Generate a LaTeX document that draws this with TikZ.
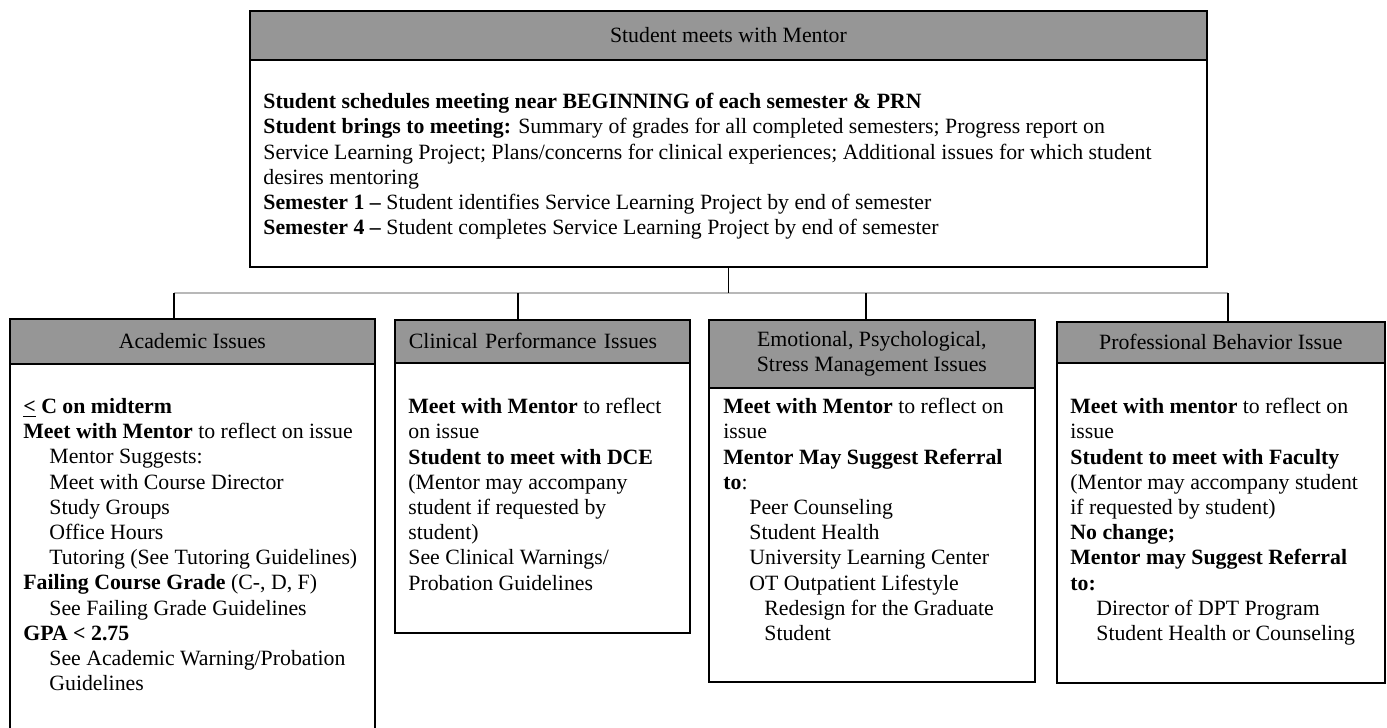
\documentclass[tikz,border=0pt]{standalone}
\usepackage{fontspec}
\setmainfont{Liberation Serif}
\usetikzlibrary{positioning}
\definecolor{headgray}{gray}{0.59}
\definecolor{busgray}{gray}{0.72}
\tikzset{
  box/.style={draw, line width=0.9pt, fill=white, anchor=north west, inner sep=0pt},
  head/.style={box, fill=headgray, align=center},
  txt/.style={anchor=north west, align=left, inner sep=0pt},
  link/.style={line width=0.8pt},
}
\newcommand{\ind}{\hspace*{13pt}}

\begin{document}
\begin{tikzpicture}[x=0.5pt, y=-0.5pt, font=\fontsize{10.9}{12.6}\selectfont]
    \clip (0,0) rectangle (1387,728);
    % Top box
    \node[box, minimum width=478.5pt, minimum height=128pt] (top) at (249,10) {};
    \node[head, minimum width=478.5pt, minimum height=24.5pt] (toph) at (249,10) {Student meets with Mentor};
    \node[txt] (toptxt) at (263,93) {%
        \textbf{Student schedules meeting near BEGINNING of each semester \& PRN}\\
        \textbf{Student brings to meeting:} Summary of grades for all completed semesters; Progress report on\\
        Service Learning Project; Plans/concerns for clinical experiences; Additional issues for which student\\
        desires mentoring\\
        \textbf{Semester 1 –} Student identifies Service Learning Project by end of semester\\
        \textbf{Semester 4 –} Student completes Service Learning Project by end of semester};
    % Issue boxes
    \node[box, minimum width=182.5pt, minimum height=211pt] (acad) at (9,318) {};
    \node[head, minimum width=182.5pt, minimum height=22.5pt] (acadh) at (9,318) {Academic Issues};
    \node[box, minimum width=147.5pt, minimum height=156.5pt] (clin) at (394,319) {};
    \node[head, minimum width=147.5pt, minimum height=21.5pt, text width=133.5pt, inner xsep=7pt, align=left] (clinh) at (394,319) {Clinical Performance Issues};
    \node[box, minimum width=163pt, minimum height=181pt] (emo) at (708,319) {};
    \node[head, minimum width=163pt, minimum height=34pt] (emoh) at (708,319) {Emotional, Psychological,\\Stress Management Issues};
    \node[box, minimum width=164pt, minimum height=180.5pt] (prof) at (1056,321) {};
    \node[head, minimum width=164pt, minimum height=20.5pt] (profh) at (1056,321) {Professional Behavior Issue};
    % Box texts
    \node[txt] (acadtxt) at (23,398) {%
        \textbf{\underline{<} C on midterm}\\
        \textbf{Meet with Mentor} to reflect on issue\\
        \ind Mentor Suggests:\\
        \ind Meet with Course Director\\
        \ind Study Groups\\
        \ind Office Hours\\
        \ind Tutoring (See Tutoring Guidelines)\\
        \textbf{Failing Course Grade} (C-, D, F)\\
        \ind See Failing Grade Guidelines\\
        \textbf{GPA < 2.75}\\
        \ind See Academic Warning/Probation\\
        \ind Guidelines};
    \node[txt] (clintxt) at (408,398) {%
        \textbf{Meet with Mentor} to reflect\\
        on issue\\
        \textbf{Student to meet with DCE}\\
        (Mentor may accompany\\
        student if requested by\\
        student)\\
        See Clinical Warnings/\\
        Probation Guidelines};
    \node[txt] (emotxt) at (723,398) {%
        \textbf{Meet with Mentor} to reflect on\\
        issue\\
        \textbf{Mentor May Suggest Referral}\\
        \textbf{to}:\\
        \ind Peer Counseling\\
        \ind Student Health\\
        \ind University Learning Center\\
        \ind OT Outpatient Lifestyle\\
        \ind\hspace*{7.5pt}Redesign for the Graduate\\
        \ind\hspace*{7.5pt}Student};
    \node[txt] (proftxt) at (1070,398) {%
        \textbf{Meet with mentor} to reflect on\\
        issue\\
        \textbf{Student to meet with Faculty}\\
        (Mentor may accompany student\\
        if requested by student)\\
        \textbf{No change;}\\
        \textbf{Mentor may Suggest Referral}\\
        \textbf{to:}\\
        \ind Director of DPT Program\\
        \ind Student Health or Counseling};
    % Connectors
    \coordinate (busL) at (174,293);
    \coordinate (busR) at (1228,293);
    \draw[link, busgray] (busL) -- (busR);
    \draw[link] (top.south) -- (top.south |- busL);
    \foreach \n/\xx in {acad/174, clin/518, emo/866, prof/1228}
    {
        \coordinate (d\n) at (\xx,293);
        \draw[link] (d\n) -- (d\n |- \n.north);
    }
\end{tikzpicture}
\end{document}
